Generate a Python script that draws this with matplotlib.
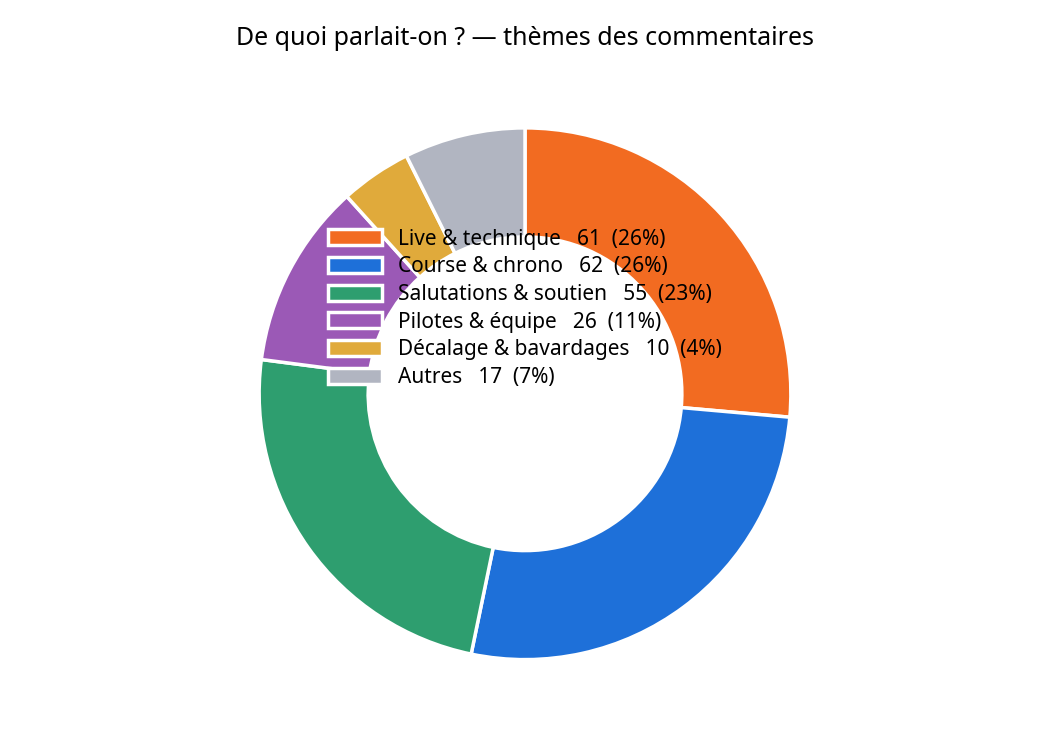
import matplotlib
matplotlib.use("Agg")
import matplotlib.pyplot as plt

plt.rcParams['font.family'] = ['Noto Sans', 'DejaVu Sans']

themes = ["Live & technique", "Course & chrono", "Salutations & soutien",
          "Pilotes & équipe", "Décalage & bavardages", "Autres"]
counts = [61, 62, 55, 26, 10, 17]
percents = [26, 26, 23, 11, 4, 7]
colors = ["#F26B21", "#1E70D9", "#2E9E6F", "#9B59B6", "#E0AA3B", "#B1B5C1"]

labels = [f"{t}   {c}  ({p}%)" for t, c, p in zip(themes, counts, percents)]

fig = plt.figure(figsize=(10.5, 7.5), dpi=100)
ax = fig.add_axes([0.0, 0.0, 1.0, 0.95])
wedges, _ = ax.pie(counts, colors=colors, startangle=90, counterclock=False,
                   radius=1.0,
                   wedgeprops=dict(width=0.41, edgecolor="white", linewidth=2.5))
ax.set_aspect("equal")
ax.set_xlim(-1.97, 1.97)
ax.set_ylim(-1.34, 1.34)
ax.axis("off")

ax.legend(wedges, labels, loc="center", bbox_to_anchor=(0.5, 0.62),
          frameon=False, fontsize=15, handlelength=2.6, handleheight=0.8,
          labelspacing=0.32)

fig.suptitle("De quoi parlait-on ? — thèmes des commentaires",
             fontsize=18, fontweight="bold", y=0.965)

fig.savefig("out.png")
